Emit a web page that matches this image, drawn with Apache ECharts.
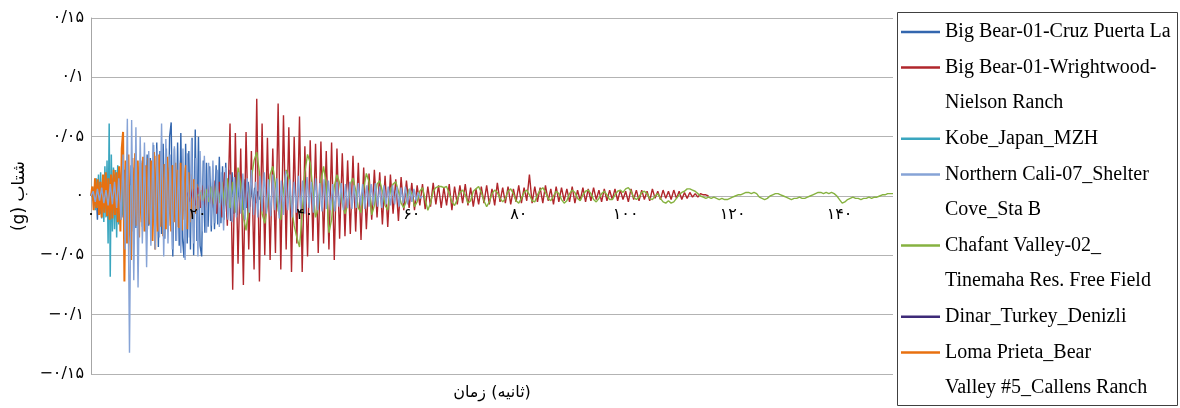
<!DOCTYPE html>
<html>
<head>
<meta charset="utf-8">
<script src="https://cdn.jsdelivr.net/npm/echarts@6/dist/echarts.min.js"></script>
<style>html,body{margin:0;padding:0;background:#fff}#c{width:1180px;height:408px}</style>
</head>
<body>
<div id="c"></div>
<script>
// ---- data (acceleration in g, uniform time step in seconds) ----
const seriesNames = [
  'Big Bear-01-Cruz Puerta La',
  'Big Bear-01-Wrightwood-Nielson Ranch',
  'Kobe_Japan_MZH',
  'Northern Cali-07_Shelter Cove_Sta B',
  'Chafant Valley-02_Tinemaha Res. Free Field',
  'Dinar_Turkey_Denizli',
  'Loma Prieta_Bear Valley #5_Callens Ranch'
];
const legendFirstLines = ['Big Bear-01-Cruz Puerta La','Big Bear-01-Wrightwood-','Kobe_Japan_MZH','Northern Cali-07_Shelter','Chafant Valley-02_','Dinar_Turkey_Denizli','Loma Prieta_Bear'];
const legendSecondLines = ['', 'Nielson Ranch', '', 'Cove_Sta B', 'Tinemaha Res. Free Field', '', 'Valley #5_Callens Ranch'];

const xTicks = [0, 20, 40, 60, 80, 100, 120, 140];
const yTicks = [-0.15, -0.1, -0.05, 0, 0.05, 0.1, 0.15];

const kobeStart = 0, kobeStep = 0.2;
const kobe = [0,.002,-.004,.008,-.012,.015,-.010,.018,-.016,.020,
  -.019,.016,-.022,.025,-.018,.030,-.040,.061,-.068,.035,
  -.030,.024,-.028,.022,-.035,.026,-.024,.018,-.020,.014,
  -.016,.012,-.013,.015,-.011,.010,-.012,.009,-.008,.010,
  -.007,.006,-.008,.005,-.006,.004,-.005,.003,-.003,.002,0];

const lomaStart = 0, lomaStep = 0.25;
const loma = [0,.008,-.012,.015,-.010,.014,-.016,.012,-.018,.018,
  -.014,.020,-.017,.015,-.020,.018,-.019,.022,-.016,.020,
  -.022,.025,-.030,.040,.054,-.072,.030,-.040,.035,-.028,
  -.054,.032,-.030,.036,-.025,.030,-.035,.028,-.022,.033,
  -.030,.026,-.028,.032,-.024,.030,-.038,.037,-.045,.034,
  -.030,.035,-.026,.030,-.034,.027,-.028,.033,-.025,.024,
  -.030,.026,-.022,.028,-.026,.022,-.027,.028,-.029,.024,
  -.020,.026,-.028,.020,-.022,.018,-.018,.014,-.015,.010,
  -.012,.008,-.009,.005,-.004,.002,0];

const shelterStart = 0, shelterStep = 0.4;
const shelter = [0,.004,-.005,.006,-.004,.007,-.006,.005,-.008,.010,
  -.007,.012,-.010,.015,-.020,.035,-.045,.065,-.132,.064,
  -.071,.058,-.077,.050,-.040,.045,-.060,.038,-.042,.045,
  -.045,.040,-.035,.061,-.051,.048,-.040,.035,-.045,.042,
  -.038,.030,-.048,.040,-.054,.036,-.035,.047,-.040,.032,
  -.051,.038,-.030,.034,-.031,.028,-.025,.030,-.023,.022,
  -.026,.020,-.029,.024,-.020,.018,-.022,.016,-.018,.020,
  -.015,.019,-.020,.015,-.014,.022,-.016,.012,-.018,.017,
  -.013,.020,-.015,.014,-.017,.018,-.012,.015,-.019,.013,
  -.016,.021,-.012,.014,-.018,.012,-.014,.017,-.011,.013,
  -.015,.016,-.010,.012,-.014,.015,-.012,.011,-.013,.014,
  -.011,.013,-.012,.010,-.013,.012,-.009,.011,-.012,.010,
  -.010,.012,-.011,.009,-.010,.011,-.008,.010,-.011,.009,
  -.009,.010,-.008,.011,-.009,.008,-.010,.009,-.007,.008,
  -.008,.009,-.007,.008,-.009,.007,-.006,.008,-.007,.006,
  -.005,.006,-.004,.003,-.002,0];

const cruzStart = 0, cruzStep = 0.3;
const cruz = [0,.005,-.008,.011,-.020,.012,-.015,.010,-.012,.014,
  -.016,.013,-.018,.015,-.014,.018,-.020,.016,-.022,.020,
  -.018,.022,-.025,.020,-.023,.026,-.021,.024,-.027,.025,
  -.024,.030,-.026,.028,-.030,.035,-.025,.032,-.028,.043,
  -.035,.045,-.043,.038,-.032,.044,-.036,.040,-.030,.050,
  .062,-.051,.040,-.038,.045,-.042,.053,-.035,-.052,.044,
  -.040,.038,-.045,.049,-.050,.056,-.038,.050,-.042,-.051,
  .030,-.031,.028,-.026,.025,-.030,.022,-.028,.026,-.024,
  .033,-.023,.025,-.020,.028,-.018,.022,-.021,.020,-.015,
  .018,-.016,.015,-.014,.016,-.012,.014,-.010,.012,-.009,
  .010,-.008,.007,-.006,.004,-.003,0];

const wrightStart = 18, wrightStep = 0.5;
const wright = [.003,-.005,.006,-.008,.007,-.010,.009,-.012,.010,-.011,
  .013,-.015,.012,-.018,.020,-.025,.061,-.079,.053,-.057,
  .040,-.075,.054,-.045,.038,-.062,.082,-.072,.061,-.050,
  .049,-.054,.040,-.048,.078,-.062,.068,-.045,.058,-.064,
  .050,-.040,.067,-.064,.042,-.051,.047,-.038,.044,-.048,
  .046,-.040,.038,-.045,.045,-.054,.040,-.036,.036,-.034,
  .030,-.032,.034,-.030,.028,-.037,.024,-.028,.019,-.020,
  .022,-.018,.020,-.024,.017,-.026,.018,-.015,.014,-.021,
  .016,-.012,.013,-.010,.011,-.012,.009,-.008,.010,-.011,
  .008,-.009,.011,-.007,.009,-.010,.007,-.008,.010,-.012,
  .008,-.007,.009,-.006,.010,-.008,.007,-.009,.006,-.007,
  .008,-.006,.009,-.007,.006,-.008,.011,-.005,.007,-.006,
  .008,-.007,.006,-.005,.009,-.006,.007,-.004,.018,-.006,
  .008,-.005,.007,-.006,.009,-.004,.006,-.007,.008,-.005,
  .007,-.004,.006,-.005,.008,-.006,.005,-.004,.007,-.005,
  .006,-.004,.007,-.003,.005,-.005,.006,-.004,.005,-.003,
  .006,-.004,.005,-.003,.004,-.005,.006,-.003,.005,-.004,
  .005,-.003,.004,-.004,.006,-.002,.004,-.003,.005,-.002,
  .004,-.003,.005,-.002,.004,-.003,.003,-.002,.003,-.001,
  .002,-.001,.002,.001,.001,0];

const chafantStart = 20, chafantStep = 0.5;
const chafant = [0,.003,-.004,.006,-.005,.008,-.007,.010,-.006,.012,
  -.008,.015,-.010,.012,-.014,.024,.010,-.018,-.029,-.010,
  .015,.030,.037,.020,-.015,-.023,-.008,.018,.025,.010,
  -.012,-.020,.005,.022,.015,-.010,-.025,-.035,-.043,-.015,
  .020,.035,.028,.005,-.018,-.010,.012,.025,.010,-.031,
  -.020,.008,.018,.011,-.006,-.015,-.008,.010,.015,.005,
  -.010,-.014,.006,.019,.012,-.016,-.008,.010,.013,.004,
  -.008,-.012,.005,.010,.012,.004,-.006,-.010,-.004,.006,
  .002,-.009,-.005,.004,.007,-.003,-.012,-.006,.004,.007,
  .008,.008,.007,.008,.002,-.005,-.008,-.003,.003,.005,
  .001,-.006,-.004,.004,.006,.008,.003,-.004,-.009,-.005,
  .002,.005,.003,-.002,-.005,-.002,.004,.006,.002,-.004,
  -.006,-.002,.003,.005,.001,-.004,-.005,.001,.005,.007,
  .003,-.002,-.004,0,.004,.002,-.003,-.006,-.004,.002,
  .005,.003,-.002,-.004,.001,.004,.005,.002,-.003,-.005,
  -.002,.002,.004,.001,-.003,-.003,.001,.004,.005,.003,
  .006,.007,.004,-.001,-.003,-.001,.003,.004,.002,-.002,
  -.003,0,.002,-.002,-.005,-.006,-.004,-.006,-.005,-.002,
  .001,.003,.004,.006,.006,.005,.004,.002,0,-.001,
  -.002,-.001,-.002,-.001,-.002,-.003,-.002,-.003,-.003,-.002,
  -.001,0,.001,.001,.002,.003,.003,.002,.003,.002,
  -.001,-.002,-.003,-.002,0,.001,.002,.002,.001,0,
  -.001,-.002,-.003,-.002,-.002,-.001,-.002,-.002,-.001,0,
  .001,.002,.003,.003,.002,.003,.002,.003,.002,0,
  -.003,-.006,-.005,-.003,-.002,-.001,-.002,-.002,-.003,-.002,
  -.002,-.001,-.002,-.001,-.001,0,.001,.001,.002,.002,
  .002];

const dinarStart = 0, dinarStep = 0.5;
const dinar = [0,.002,-.003,.003,-.002,.004,-.003,.002,-.004,.003,
  -.002,.003,-.002,.002,-.003,.002,-.001,.002,-.002,.001,
  -.001,.002,-.002,.001,-.001,.001,-.002,.001,-.001,.001,
  0,.001,-.001,.001,0,-.001,.001,0,-.001,0,0];

const colors = {
  cruz: '#3366AE', wright: '#B0262B', kobe: '#3AA6BF', shelter: '#86A3D6',
  chafant: '#86B240', dinar: '#3E2A78', loma: '#E8700F'
};

// ---- helpers ----
function pairs(start, step, vals) {
  return vals.map((v, i) => [Math.round((start + i * step) * 1000) / 1000, v]);
}
const faDigits = '۰۱۲۳۴۵۶۷۸۹';
function fa(v) {
  const r = Math.round(v * 100) / 100;
  const s = String(Math.abs(r)).replace('.', '/').replace(/\d/g, d => faDigits[+d]);
  return (r < 0 ? '−' : '') + s;
}
function mk(name, data, color, width) {
  return {
    name, type: 'line', data, color,
    showSymbol: false, symbol: 'none', sampling: 'none',
    lineStyle: { color, width }, itemStyle: { color },
    emphasis: { disabled: true }, silent: true, animation: false
  };
}

const series = [
  mk(seriesNames[5], pairs(dinarStart, dinarStep, dinar), colors.dinar, 1.2),
  mk(seriesNames[0], pairs(cruzStart, cruzStep, cruz), colors.cruz, 1.4),
  mk(seriesNames[2], pairs(kobeStart, kobeStep, kobe), colors.kobe, 1.5),
  mk(seriesNames[6], pairs(lomaStart, lomaStep, loma), colors.loma, 2),
  mk(seriesNames[1], pairs(wrightStart, wrightStep, wright), colors.wright, 1.4),
  mk(seriesNames[4], pairs(chafantStart, chafantStep, chafant), colors.chafant, 1.4),
  mk(seriesNames[3], pairs(shelterStart, shelterStep, shelter), colors.shelter, 1.4)
];

// legend rows
const rowY = k => 32 + 35.6 * k;
const itemRows = [0, 1, 3, 4, 6, 8, 9];
const contRows = [0, 2, 0, 5, 7, 0, 10];
const legends = seriesNames.map((n, i) => ({
  data: [n], orient: 'horizontal', left: 901, top: rowY(itemRows[i]) - 10,
  padding: 0, icon: 'rect', itemWidth: 39, itemHeight: 2.5, selectedMode: false,
  formatter: () => legendFirstLines[i],
  textStyle: { fontFamily: 'Liberation Serif', fontSize: 20, lineHeight: 20, color: '#000' }
}));
const graphics = [{
  type: 'rect', shape: { x: 897.5, y: 12.5, width: 280, height: 393 },
  style: { fill: 'none', stroke: '#404040', lineWidth: 1 }, silent: true
}];
legendSecondLines.forEach((t, i) => {
  if (!t) return;
  graphics.push({
    type: 'text', silent: true,
    style: { text: t, x: 945, y: rowY(contRows[i]), font: '20px "Liberation Serif"', fill: '#000', verticalAlign: 'middle' }
  });
});

const chart = echarts.init(document.getElementById('c'), null, { renderer: 'canvas' });
chart.setOption({
  animation: false,
  backgroundColor: '#fff',
  grid: { left: 91, right: 287, top: 18, bottom: 34, containLabel: false, outerBoundsMode: 'none' },
  legend: legends,
  graphic: graphics,
  xAxis: {
    type: 'value', min: xTicks[0], max: 150, interval: xTicks[1] - xTicks[0], zlevel: 1, z: 10,
    name: '{t|زمان} {t|(ثانیه)}', nameLocation: 'middle', nameGap: 11,
    nameTextStyle: { fontFamily: 'DejaVu Sans', fontSize: 16, color: '#000',
      rich: { t: { fontFamily: 'DejaVu Sans', fontSize: 16, color: '#000' } } },
    axisLine: { show: false, onZero: false },
    axisTick: { show: false },
    // tick labels sit just under the zero line (the axis crosses at y = 0 in the original)
    axisLabel: { showMaxLabel: false, margin: -167, color: '#000', fontFamily: 'DejaVu Sans', fontSize: 16,
      formatter: v => xTicks.indexOf(v) >= 0 ? fa(v) : '' },
    splitLine: { show: false }
  },
  yAxis: {
    type: 'value', min: yTicks[0], max: yTicks[yTicks.length - 1], interval: 0.05,
    name: '\u202Bشتاب (g)\u202C', nameLocation: 'middle', nameGap: 62, nameRotate: 90,
    nameTextStyle: { fontFamily: 'DejaVu Sans', fontSize: 17, color: '#000' },
    axisLine: { show: true, onZero: false, lineStyle: { color: '#A6A6A6', width: 1 } },
    axisTick: { show: false },
    axisLabel: { margin: 7, color: '#000', fontFamily: 'DejaVu Sans', fontSize: 16, formatter: v => fa(v) },
    splitLine: { show: true, lineStyle: { color: '#B3B3B3', width: 1 } }
  },
  series
});
</script>
</body>
</html>
